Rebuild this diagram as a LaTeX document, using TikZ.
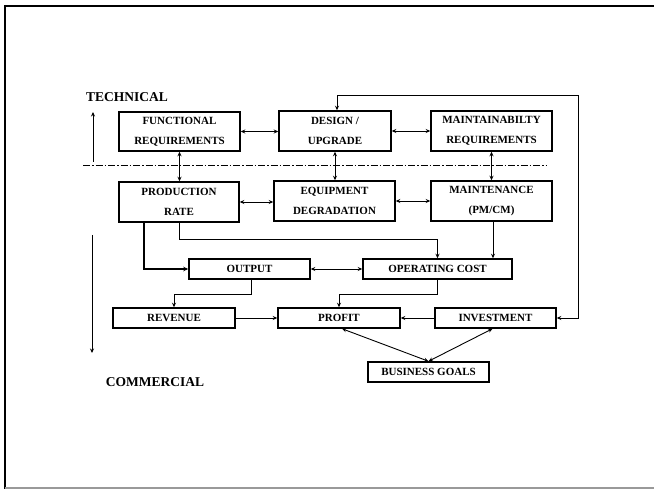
\documentclass[tikz,border=0pt]{standalone}
\usepackage{fontspec}
\setmainfont{Liberation Serif}
\usetikzlibrary{arrows.meta}
\tikzset{
  box/.style={draw, line width=1.5pt, inner sep=0pt, align=center,
    font=\bfseries\fontsize{11}{20}\selectfont},
  conn/.style={line width=0.9pt, arrows={-Stealth[length=4.5pt,width=4pt]}},
  biconn/.style={line width=0.9pt, arrows={Stealth[length=4.5pt,width=4pt]-Stealth[length=4.5pt,width=4pt]}},
  thickconn/.style={line width=1.8pt, arrows={-Stealth[length=5pt,width=4.5pt]}},
  side/.style={font=\bfseries\fontsize{13.5}{16}\selectfont},
}
\begin{document}
\begin{tikzpicture}[x=1pt,y=-1pt]
\useasboundingbox (0,0) rectangle (654,489);
% frame
\draw[line width=2.5pt] (5,5) -- (5,489);
\draw[line width=2pt] (4,6) -- (654,6);
\draw[line width=1.5pt, black!40] (5,488) -- (654,488);

% labels
\node[side] (tech) at (127,97) {TECHNICAL};
\node[side] (comm) at (155,382) {COMMERCIAL};

% boxes
\node[box, minimum width=121pt, minimum height=39pt] (FR) at (179.5,131.5) {FUNCTIONAL\\REQUIREMENTS};
\node[box, minimum width=112pt, minimum height=40pt] (DU) at (335,131) {DESIGN /\\UPGRADE};
\node[box, minimum width=121pt, minimum height=40pt] (MR) at (491.5,131) {MAINTAINABILTY\\REQUIREMENTS};
\node[box, minimum width=120pt, minimum height=40pt] (PR) at (179,202) {PRODUCTION\\RATE};
\node[box, minimum width=121pt, minimum height=40pt] (ED) at (334.5,201) {EQUIPMENT\\DEGRADATION};
\node[box, minimum width=121pt, minimum height=40pt] (MT) at (491.5,201) {MAINTENANCE\\(PM/CM)};
\node[box, minimum width=121pt, minimum height=20pt] (OUT) at (249.5,269) {OUTPUT};
\node[box, minimum width=149pt, minimum height=20pt] (OC) at (437.5,269) {OPERATING COST};
\node[box, minimum width=122pt, minimum height=20pt] (REV) at (174,318) {REVENUE};
\node[box, minimum width=122pt, minimum height=20pt] (PROF) at (339,318) {PROFIT};
\node[box, minimum width=121pt, minimum height=20pt] (INV) at (495.5,318) {INVESTMENT};
\node[box, minimum width=121pt, minimum height=20pt] (BG) at (428.5,372) {BUSINESS GOALS};

% side arrows and divider
\coordinate (upA) at (93,162);
\coordinate (upB) at (93,112);
\coordinate (dnA) at (92,235);
\coordinate (dnB) at (92,353);
\draw[conn] (upA) -- (upB);
\draw[conn] (dnA) -- (dnB);
\coordinate (divL) at (83,165);
\coordinate (divR) at (547,165);
\draw[line width=0.9pt, dash pattern=on 7pt off 2pt on 1.5pt off 2pt] (divL) -- (divR);

% technical row connectors
\draw[biconn] (FR.east) -- (FR.east -| DU.west);
\draw[biconn] (DU.east) -- (DU.east -| MR.west);
\draw[biconn] (FR.south) -- (FR.south |- PR.north);
\draw[biconn] (DU.south) -- (DU.south |- ED.north);
\draw[biconn] (MR.south) -- (MR.south |- MT.north);
\draw[biconn] (PR.east) -- (PR.east -| ED.west);
\draw[biconn] (ED.east) -- (ED.east -| MT.west);

% to output / operating cost
\draw[thickconn] ([xshift=-35pt]PR.south) |- (OUT.west);
\draw[conn] (PR.south) -- ++(0,17) -| (OC.north);
\draw[conn] ([xshift=1.5pt]MT.south) -- ([xshift=1.5pt]MT.south |- OC.north);
\draw[biconn] (OUT.east) -- (OUT.east -| OC.west);

% commercial row
\draw[conn] ([xshift=1.5pt]OUT.south) -- ++(0,15) -| (REV.north);
\draw[conn] (OC.south) -- ++(0,15) -| (PROF.north);
\draw[conn] (REV.east) -- (REV.east -| PROF.west);
\draw[conn] (INV.west) -- (INV.west -| PROF.east);

% feedback loop
\coordinate (fbR) at (578,95);
\draw[biconn] (INV.east) -| (fbR) -| ([xshift=2pt]DU.north);

% business goals
\draw[biconn] ([xshift=3pt]PROF.south) -- (BG.north);
\draw[biconn] ([xshift=-3pt]INV.south) -- (BG.north);
\end{tikzpicture}
\end{document}
